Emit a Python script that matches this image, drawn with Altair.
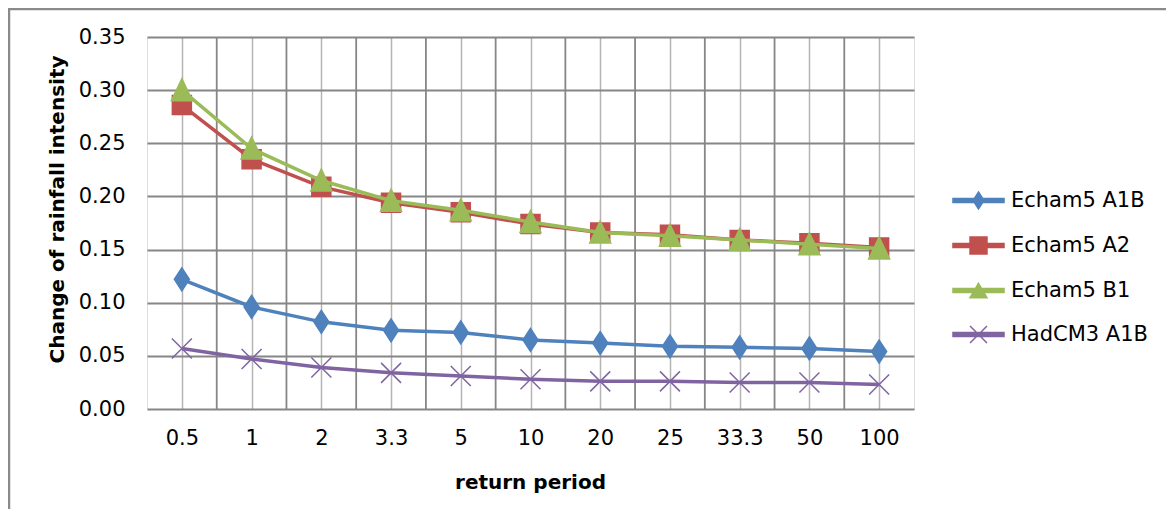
import altair as alt
import pandas as pd

categories = ["0.5", "1", "2", "3.3", "5", "10", "20", "25", "33.3", "50", "100"]
series_names = ["Echam5 A1B", "Echam5 A2", "Echam5 B1", "HadCM3 A1B"]
echam5_a1b = [0.122, 0.096, 0.082, 0.074, 0.072, 0.065, 0.062, 0.059, 0.058, 0.057, 0.054]
echam5_a2 = [0.286, 0.235, 0.209, 0.194, 0.185, 0.174, 0.166, 0.164, 0.159, 0.156, 0.152]
echam5_b1 = [0.300, 0.245, 0.215, 0.196, 0.187, 0.176, 0.166, 0.163, 0.159, 0.155, 0.151]
hadcm3_a1b = [0.057, 0.047, 0.039, 0.034, 0.031, 0.028, 0.026, 0.026, 0.025, 0.025, 0.023]
y_ticks = [0.0, 0.05, 0.10, 0.15, 0.20, 0.25, 0.30, 0.35]

series_colors = ["#4F81BD", "#C0504D", "#9BBB59", "#8064A2"]
# marker shapes for the data points (unit box -1..1)
marker_paths = [
    "M0,-1.15L0.75,0L0,1.15L-0.75,0Z",
    "M-0.95,-0.95H0.95V0.95H-0.95Z",
    "M0,-1.15L1.05,1.05H-1.05Z",
    "M-1,-1L1,1M-1,1L1,-1",
]
# legend symbols: line segment + marker
bar = "M-3.19,-0.25H3.19V0.25H-3.19Z"
legend_paths = [
    bar + "M0,-1.06L0.69,0L0,1.06L-0.69,0Z",
    bar + "M-1.06,-1.06H1.06V1.06H-1.06Z",
    bar + "M0,-0.9L1.06,0.9H-1.06Z",
    bar + "M-1.06,-1.06L1.06,1.06M-1.06,1.06L1.06,-1.06",
]

all_values = [echam5_a1b, echam5_a2, echam5_b1, hadcm3_a1b]
rows = []
for name, vals in zip(series_names, all_values):
    for i, (c, v) in enumerate(zip(categories, vals)):
        rows.append({"series": name, "idx": i, "period": c, "value": v})
df = pd.DataFrame(rows)
bounds = pd.DataFrame({"idx": [i + 0.5 for i in range(len(categories) - 1)]})

FONT = "DejaVu Sans"
x_scale = alt.Scale(domain=[-0.5, len(categories) - 0.5], nice=False, zero=False)
y_scale = alt.Scale(domain=[0, 0.35], nice=False, zero=False)
label_expr = "[" + ",".join("'%s'" % c for c in categories) + "][round(datum.value)]"

x_axis = alt.Axis(values=list(range(len(categories))), labelExpr=label_expr,
                  title="return period", grid=True, gridColor="#b4b4b4", gridWidth=1.5,
                  ticks=False, tickSize=0, domain=False, labelFontSize=21, labelPadding=18,
                  labelColor="black", labelFont=FONT, labelFontWeight="normal",
                  titleFont=FONT, titleFontSize=20, titleFontWeight="bold", titleColor="black",
                  titleX=383, titleY=73, titleBaseline="middle", titleAlign="center")
y_axis = alt.Axis(values=y_ticks, format=".2f", title="Change of rainfall intensity",
                  grid=True, gridColor="#868686", gridWidth=1.8, ticks=False, tickSize=0,
                  domain=False, labelFontSize=21, labelPadding=22, labelColor="black",
                  labelFont=FONT, titleFont=FONT, titleFontSize=20, titleFontWeight="bold",
                  titleColor="black", titleX=-90, titleY=172, titleAngle=270,
                  titleBaseline="middle", titleAlign="center")
x_enc = alt.X("idx:Q", scale=x_scale, axis=x_axis)
y_enc = alt.Y("value:Q", scale=y_scale, axis=y_axis)

frame = alt.Chart(pd.DataFrame({"a": [0]})).mark_rect(
    fillOpacity=0, stroke="#8a8a8a", strokeWidth=2.5, clip=False
).encode(x=alt.value(-138), x2=alt.value(3000), y=alt.value(-28), y2=alt.value(3000))

bound_rules = alt.Chart(bounds).mark_rule(color="#868686", strokeWidth=1.8).encode(x=x_enc)

layers = [frame, bound_rules]
for name, color, path in zip(series_names, series_colors, marker_paths):
    base = alt.Chart(df).transform_filter(alt.datum.series == name)
    layers.append(base.mark_line(color=color, strokeWidth=3.5).encode(x=x_enc, y=y_enc))
    layers.append(base.mark_point(shape=path, size=400, filled=False, fill=color, stroke=color,
                                  strokeWidth=1.5, opacity=1).encode(x=x_enc, y=y_enc))

leg = alt.Legend(title=None, orient="none", legendX=821, legendY=153, padding=0,
                 symbolSize=256, symbolStrokeWidth=1.5, labelFont=FONT, labelFontSize=21,
                 labelColor="black", labelOffset=22, rowPadding=22, symbolOpacity=1)
legend_layer = alt.Chart(df).transform_filter("false").mark_point(
    filled=False, opacity=1, strokeWidth=1.5
).encode(
    x=x_enc, y=y_enc,
    color=alt.Color("series:N", scale=alt.Scale(domain=series_names, range=series_colors), legend=leg),
    fill=alt.Fill("series:N", scale=alt.Scale(domain=series_names, range=series_colors), legend=leg),
    shape=alt.Shape("series:N", scale=alt.Scale(domain=series_names, range=legend_paths), legend=leg),
)
layers.append(legend_layer)

chart = alt.layer(*layers).properties(
    width=767, height=372,
    autosize=alt.AutoSizeParams(type="none"),
    padding={"left": 139, "top": 29, "right": 252, "bottom": 100},
    background="white",
).configure_view(stroke="#888888", strokeWidth=2).configure(font=FONT)

chart.save("out.html", embed_options={"renderer": "svg", "actions": False})
